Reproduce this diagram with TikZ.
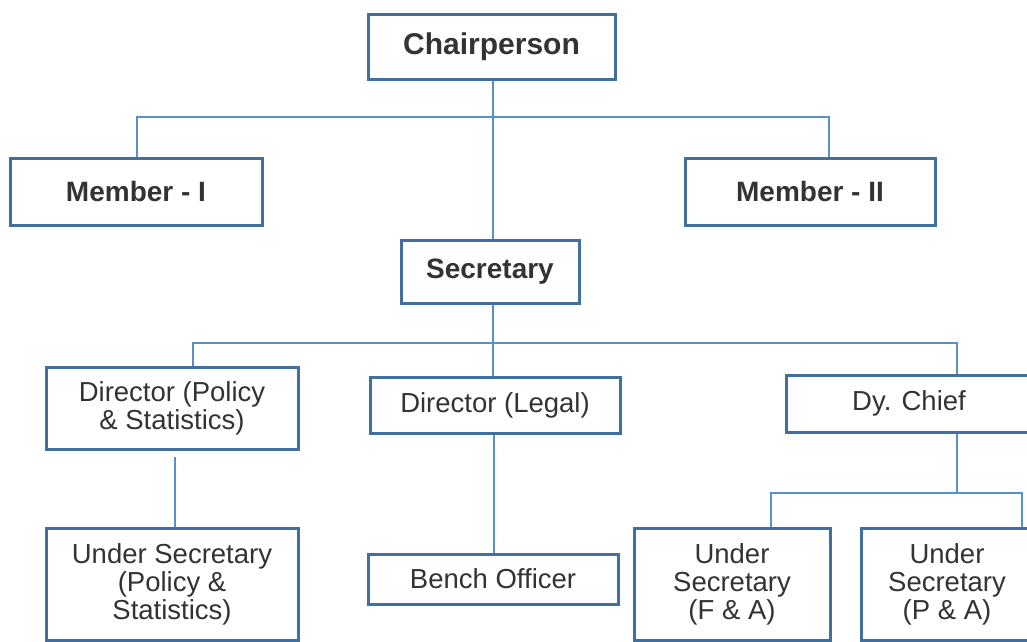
\documentclass[tikz,border=0pt]{standalone}
\usepackage{fontspec}
\setmainfont{Liberation Sans}
\definecolor{boxline}{HTML}{41709F}
\definecolor{wire}{HTML}{5B8FC7}
\definecolor{ink}{HTML}{333333}

\begin{document}
\begin{tikzpicture}[
  x=1pt, y=-1pt,
  post/.style={draw=boxline, line width=3pt, fill=white, text=ink,
    align=center, inner sep=0pt,
    font=\fontsize{27.5}{28}\selectfont},
  head/.style={post, font=\fontsize{28}{30}\selectfont\bfseries},
  link/.style={draw=wire, line width=1.4pt}
  ]
\useasboundingbox (0,0) rectangle (1027,641);
\clip (0,0) rectangle (1027,641);

\node[head, minimum width=247pt, minimum height=65pt,
  font=\fontsize{30}{32}\selectfont\bfseries] (chair) at (491.5,46.5) {Chairperson};
\node[head, minimum width=252pt, minimum height=67pt] (mem1) at (136,191.5) {Member - I};
\node[head, minimum width=250pt, minimum height=67pt] (mem2) at (810,191.5) {Member - II};
\node[head, minimum width=178pt, minimum height=63pt] (sec) at (490,271.5) {Secretary};

\node[post, minimum width=252pt, minimum height=82pt] (dirps) at (172,408) {Director (Policy\\\& Statistics)};
\node[post, minimum width=250pt, minimum height=56pt] (dirlegal) at (495,405) {Director (Legal)};
\node[post, minimum width=246pt, minimum height=57pt] (dychief) at (909,403.5) {Dy. Chief};

\node[post, minimum width=252pt, minimum height=112pt] (usps) at (172,584) {Under Secretary\\(Policy \&\\Statistics)};
\node[post, minimum width=250pt, minimum height=50pt] (bench) at (493,579) {Bench Officer};
\node[post, minimum width=196pt, minimum height=112pt] (usfa) at (732,584) {Under\\Secretary\\(F \& A)};
\node[post, minimum width=172pt, minimum height=112pt] (uspa) at (947,584) {Under\\Secretary\\(P \& A)};

\coordinate (topbus) at (493,117);
\coordinate (midbus) at (493,343);
\coordinate (lowbus) at (957,493);

\draw[link] ([xshift=1.5pt]chair.south) -- ([xshift=1.5pt]chair.south |- sec.north);
\draw[link] ([xshift=1pt]mem1.north) |- (topbus) -| ([xshift=19pt]mem2.north);
\draw[link] ([xshift=3pt]sec.south) -- ([xshift=3pt]sec.south |- dirlegal.north);
\draw[link] ([xshift=21pt]dirps.north) |- (midbus) -| ([xshift=48pt]dychief.north);
\draw[link] ([xshift=3pt,yshift=-6pt]dirps.south) -- ([xshift=3pt]usps.north);
\draw[link] ([xshift=-1pt]dirlegal.south) -- ([xshift=-1pt]dirlegal.south |- bench.north);
\draw[link] ([xshift=48pt]dychief.south) -- (lowbus);
\draw[link] ([xshift=39pt]usfa.north) |- (lowbus) -| ([xshift=75pt]uspa.north);
\end{tikzpicture}
\end{document}
